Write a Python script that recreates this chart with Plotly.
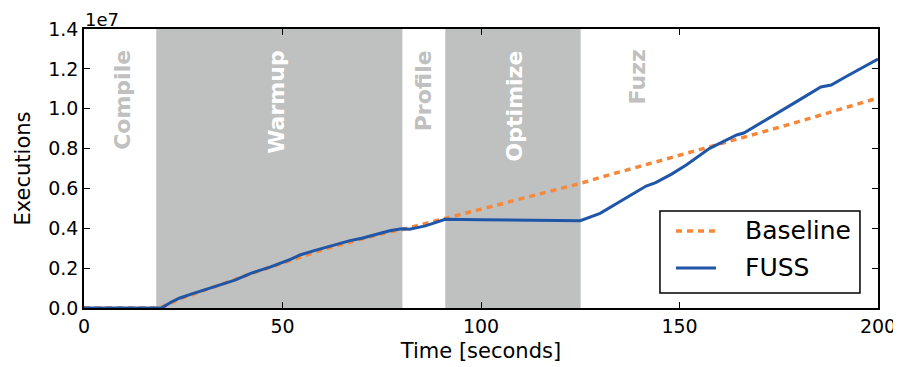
import plotly.graph_objects as go

# ---- data ----
baseline_t = [0, 10, 18, 20, 24, 29, 34, 38, 42, 47, 52, 57, 61, 65, 69, 73, 77, 80,
              85, 90, 95, 100, 105, 110, 115, 120, 125, 130, 140, 150, 160, 164.4, 170, 180, 190, 200]
baseline_v = [0, 0, 0, 0.08e6, 0.45e6, 0.80e6, 1.12e6, 1.42e6, 1.72e6, 2.05e6, 2.42e6, 2.72e6,
              2.98e6, 3.20e6, 3.42e6, 3.63e6, 3.82e6, 3.93e6,
              4.20e6, 4.45e6, 4.70e6, 4.96e6, 5.22e6, 5.47e6, 5.72e6, 5.96e6, 6.25e6, 6.55e6,
              7.10e6, 7.68e6, 8.22e6, 8.46e6, 8.78e6, 9.35e6, 9.95e6, 10.54e6]

fuss_t = [0, 10, 19.5, 22, 24, 27, 30, 34, 38, 42, 47, 52, 54.4, 58, 61, 64.5, 67, 70, 74, 77, 80,
          82, 86, 89.6, 91, 100, 110, 118, 125, 130, 135, 138, 141.6, 144, 148, 151.7, 155, 157.6,
          161, 164.4, 166.2, 170, 175, 180, 185.6, 188.2, 192, 196, 200]
fuss_v = [0, 0, 0, 0.30e6, 0.49e6, 0.70e6, 0.90e6, 1.15e6, 1.40e6, 1.74e6, 2.06e6, 2.44e6, 2.66e6,
          2.88e6, 3.05e6, 3.25e6, 3.38e6, 3.50e6, 3.72e6, 3.88e6, 3.98e6,
          3.95e6, 4.12e6, 4.33e6, 4.45e6, 4.43e6, 4.41e6, 4.40e6, 4.38e6, 4.75e6, 5.33e6, 5.72e6,
          6.12e6, 6.29e6, 6.72e6, 7.18e6, 7.62e6, 8.01e6, 8.35e6, 8.68e6, 8.78e6, 9.22e6, 9.82e6,
          10.42e6, 11.09e6, 11.19e6, 11.62e6, 12.06e6, 12.49e6]

series_names = ["Baseline", "FUSS"]

phase_names = ["Compile", "Warmup", "Profile", "Optimize", "Fuzz"]
phase_label_x = [9.8, 48.6, 85.6, 108.3, 139.3]
shaded_start = [18.2, 91.0]
shaded_end = [80.2, 125.1]

x_ticks = [0, 50, 100, 150, 200]
y_ticks = [0, 2e6, 4e6, 6e6, 8e6, 10e6, 12e6, 14e6]
y_tick_text = ["0.0", "0.2", "0.4", "0.6", "0.8", "1.0", "1.2", "1.4"]

ORANGE = "#f5883a"
BLUE = "#1f56a8"
SHADE = "#bfc0c0"
FONT = "DejaVu Sans"
ORANGE_DASH = "6px,5px"

fig = go.Figure()
fig.add_trace(go.Scatter(x=baseline_t, y=baseline_v, mode="lines", name=series_names[0],
                         line=dict(color=ORANGE, width=3.5, dash=ORANGE_DASH), showlegend=False))
fig.add_trace(go.Scatter(x=fuss_t, y=fuss_v, mode="lines", name=series_names[1],
                         line=dict(color=BLUE, width=3), showlegend=False))

for s, e in zip(shaded_start, shaded_end):
    fig.add_vrect(x0=s, x1=e, fillcolor=SHADE, opacity=1, line_width=0, layer="below")

shaded_flags = [False, True, False, True, False]
for name, xv, sh in zip(phase_names, phase_label_x, shaded_flags):
    fig.add_annotation(x=xv, y=13.05e6, xref="x", yref="y", text="<b>%s</b>" % name,
                       textangle=-90, showarrow=False, xanchor="center", yanchor="top",
                       font=dict(family=FONT, size=22, color="white" if sh else "#c0c0c0"))

fig.add_annotation(x=0, y=1.0, xref="paper", yref="paper", text="1e7", showarrow=False,
                   xanchor="left", yanchor="bottom", yshift=-2, borderpad=0,
                   font=dict(family=FONT, size=18, color="black"))

# ---- legend box (drawn by hand to match the reference's padding) ----
fig.add_shape(type="rect", xref="paper", yref="paper", x0=0.7254, x1=0.9773, y0=0.0538, y1=0.3477,
              line=dict(color="black", width=1.5), fillcolor="white", layer="above")
legend_rows_y = [0.276, 0.1434]
legend_styles = [dict(color=ORANGE, width=3.5, dash=ORANGE_DASH), dict(color=BLUE, width=3)]
for name, ly, st in zip(series_names, legend_rows_y, legend_styles):
    fig.add_shape(type="line", xref="paper", yref="paper", x0=0.7456, x1=0.7960, y0=ly, y1=ly,
                  line=st, layer="above")
    fig.add_annotation(x=0.8300, y=ly, xref="paper", yref="paper", text=name, showarrow=False,
                       xanchor="left", yanchor="middle",
                       font=dict(family=FONT, size=25, color="black"))

axis_common = dict(showline=True, linecolor="black", linewidth=1.5, mirror="ticks",
                   ticks="inside", ticklen=6, tickwidth=1, tickcolor="black",
                   showgrid=False, zeroline=False, automargin=False,
                   ticklabeloverflow="allow",
                   tickfont=dict(family=FONT, size=19, color="black"))

fig.update_xaxes(range=[0, 200], tickvals=x_ticks,
                 title=dict(text="Time [seconds]", font=dict(family=FONT, size=21, color="black"),
                            standoff=8),
                 **axis_common)
fig.update_yaxes(range=[0, 14e6], tickvals=y_ticks, ticktext=y_tick_text,
                 title=dict(text="Executions", font=dict(family=FONT, size=21, color="black"),
                            standoff=12),
                 **axis_common)

# The page body adds an 8px margin, so the figure is sized to fill the rest of the window.
fig.update_layout(
    width=893, height=359,
    margin=dict(l=76, r=23, t=21, b=59),
    plot_bgcolor="white", paper_bgcolor="white",
    font=dict(family=FONT, color="black"),
    showlegend=False,
)

fig.write_html("out.html")
